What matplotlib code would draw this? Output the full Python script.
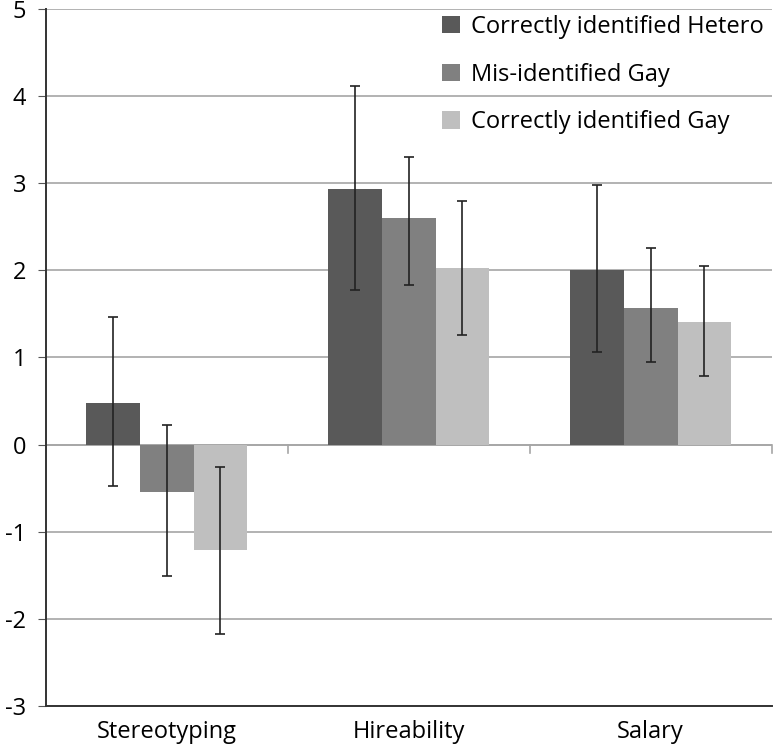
"""Grouped bar chart with error bars: stereotyping, hireability, salary."""

import matplotlib
matplotlib.use("Agg")
import matplotlib.pyplot as plt
import numpy as np

categories = ["Stereotyping", "Hireability", "Salary"]
series = ["Correctly identified Hetero", "Mis-identified Gay", "Correctly identified Gay"]

# means per series, in category order
hetero = [0.48, 2.94, 2.01]
mis_gay = [-0.54, 2.60, 1.57]
correct_gay = [-1.21, 2.03, 1.41]

# error bar ends (upper / lower)
hetero_hi = [1.47, 4.12, 2.98]
hetero_lo = [-0.47, 1.78, 1.06]
mis_gay_hi = [0.22, 3.30, 2.26]
mis_gay_lo = [-1.51, 1.83, 0.95]
correct_gay_hi = [-0.26, 2.80, 2.05]
correct_gay_lo = [-2.17, 1.26, 0.79]

colors = ["#595959", "#808080", "#bfbfbf"]

plt.rcParams["font.family"] = ["Open Sans", "DejaVu Sans"]
plt.rcParams["axes.unicode_minus"] = False

fig = plt.figure(figsize=(7.74, 7.55), dpi=100)
ax = fig.add_axes([0.059, 0.065, 0.938, 0.923])

x = np.arange(len(categories))
width = 0.222
means = [hetero, mis_gay, correct_gay]
his = [hetero_hi, mis_gay_hi, correct_gay_hi]
los = [hetero_lo, mis_gay_lo, correct_gay_lo]

for i, (m, hi, lo) in enumerate(zip(means, his, los)):
    m = np.array(m)
    pos = x + (i - 1) * width
    ax.bar(pos, m, width, color=colors[i], label=series[i], zorder=2)
    yerr = [m - np.array(lo), np.array(hi) - m]
    ax.errorbar(pos, m, yerr=yerr, fmt="none", ecolor="#222222",
                elinewidth=1.2, capsize=3.5, capthick=1.2, zorder=3)

ax.set_xlim(-0.5, 2.5)
ax.set_ylim(-3, 5)
ax.set_yticks(range(-3, 6))
ax.yaxis.grid(True, color="#a6a6a6", lw=1.2, zorder=0)
ax.set_axisbelow(True)

# category axis line at zero, with boundary ticks
ax.axhline(0, color="#a6a6a6", lw=1.2, zorder=1)
for b in [0.5, 1.5, 2.5]:
    ax.plot([b, b], [0, -0.1], color="#a6a6a6", lw=1.2, zorder=1, clip_on=False)

ax.set_xticks(x)
ax.set_xticklabels(categories, fontsize=17)
ax.tick_params(axis="x", length=0, pad=10)
ax.tick_params(axis="y", labelsize=17, length=6, color="#555555", pad=8)

for s in ["top", "right"]:
    ax.spines[s].set_visible(False)
ax.spines["left"].set_color("#333333")
ax.spines["left"].set_linewidth(1.4)
ax.spines["bottom"].set_color("#333333")
ax.spines["bottom"].set_linewidth(1.4)

ax.legend(loc="upper right", bbox_to_anchor=(1.018, 1.022), frameon=False,
          fontsize=17, handlelength=0.75, handleheight=0.75,
          handletextpad=0.45, labelspacing=1.0)

fig.savefig("out.png", dpi=100)
